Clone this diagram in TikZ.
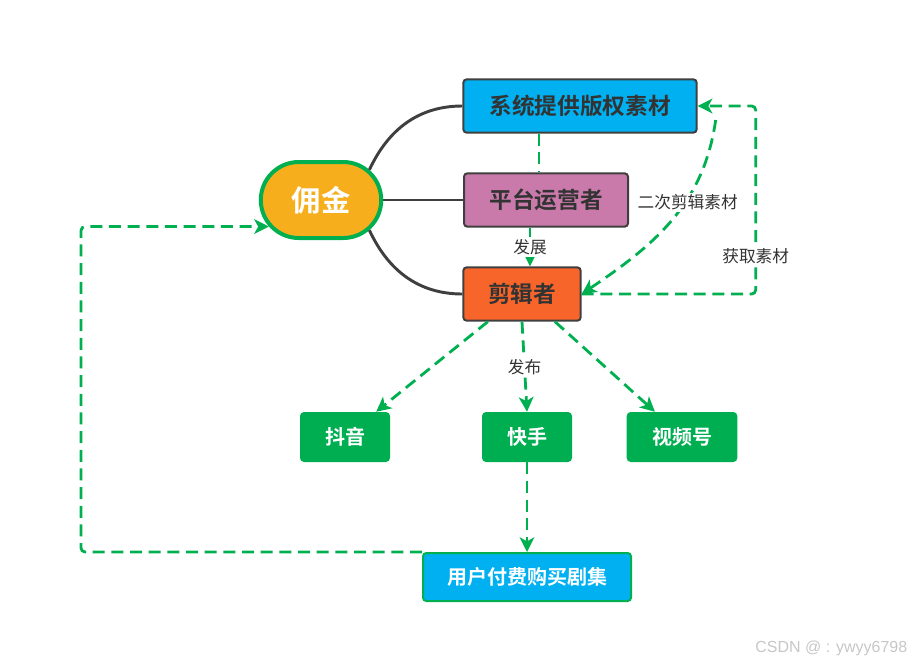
\documentclass[tikz,border=0pt]{standalone}
\usepackage{fontspec}
\newfontfamily\cjk{Noto Sans CJK SC}[BoldFont={Noto Sans CJK SC Bold}]
\newfontfamily\marksans{Liberation Sans}
\usetikzlibrary{shapes.misc, arrows.meta, positioning}

\definecolor{cmgold}{HTML}{F6AE1D}
\definecolor{cmgreen}{HTML}{00B050}
\definecolor{cmblue}{HTML}{00B0F0}
\definecolor{cmpink}{HTML}{C97AAB}
\definecolor{cmorange}{HTML}{F8652A}
\definecolor{cmboxgreen}{HTML}{00AE52}
\definecolor{cmdark}{HTML}{3F3F3F}
\definecolor{cmtext}{HTML}{333333}

\begin{document}
\begin{tikzpicture}[
    x=0.75pt, y=-0.75pt,
    font=\cjk,
    role/.style={rectangle, draw=cmdark, line width=1.5pt, rounded corners=2.5pt, minimum height=40pt, align=center, font=\cjk\bfseries\fontsize{17}{20}\selectfont, text=cmtext},
    channel/.style={rectangle, fill=cmboxgreen, rounded corners=3pt, minimum width=67.5pt, minimum height=37.5pt, font=\cjk\bfseries\fontsize{15}{18}\selectfont, text=white},
    branch/.style={draw=cmdark, line width=2.2pt},
    dash_line/.style={draw=cmgreen, line width=2.1pt, dash pattern=on 9pt off 5pt},
    dash_arrow/.style={dash_line, -{Stealth[length=11pt, width=11pt, inset=3pt]}},
    tag/.style={fill=white, inner sep=1.5pt, text=cmtext, font=\cjk\fontsize{12.5}{14}\selectfont}
]
\useasboundingbox (0,0) rectangle (916,664);

% commission
\node[rounded rectangle, fill=cmgold, draw=cmgreen, line width=3pt, minimum width=97pt, minimum height=57pt, text=white, font=\cjk\bfseries\fontsize{22}{26}\selectfont] (yongjin) at (321,200) {佣金};

% roles
\node[role, fill=cmblue, minimum width=175pt] (xitong) at (580,106) {系统提供版权素材};
\node[role, fill=cmpink, minimum width=123pt] (pingtai) at (546,200) {平台运营者};
\node[role, fill=cmorange, minimum width=88pt] (jianji) at (522,294) {剪辑者};

% channels
\node[channel] (douyin) at (345,437) {抖音};
\node[channel] (kuaishou) at (527,437) {快手};
\node[channel, minimum width=83pt] (shipinhao) at (682,437) {视频号};
\node[rectangle, fill=cmblue, draw=cmgreen, line width=1.5pt, rounded corners=2.5pt, minimum width=156pt, minimum height=36pt, text=white, font=\cjk\bfseries\fontsize{15}{18}\selectfont] (yonghu) at (527,577) {用户付费购买剧集};

% branches
\draw[branch] (yongjin.32) to[out=65, in=180] (xitong.west);
\draw[branch] (yongjin.east) -- (pingtai.west);
\draw[branch] (yongjin.-32) to[out=-65, in=180] (jianji.west);

% flows
\draw[dash_line] ([xshift=-30.75pt]xitong.south) -- ([xshift=-30.75pt]xitong.south |- pingtai.north);
\draw[dash_arrow] ([xshift=-12pt]pingtai.south) -- node[tag] {发展} ([xshift=-12pt]pingtai.south |- jianji.north);
\draw[dash_arrow] ([shift={(18,14)}]xitong.east) to[out=-98, in=34] node[tag, pos=0.39, xshift=2pt] {二次剪辑素材} (jianji.east);
\draw[dash_arrow, rounded corners=3pt] (jianji.east) -- ++(174,0) |- node[tag, pos=0.1] {获取素材} (xitong.east);
\draw[dash_arrow] (jianji.219) -- (douyin.39);
\draw[dash_arrow] (jianji.south) -- node[tag] {发布} (kuaishou.north);
\draw[dash_arrow] (jianji.320) -- (shipinhao.137);
\draw[dash_arrow] (kuaishou.south) -- (yonghu.north);
\draw[dash_arrow, rounded corners=3pt] (yonghu.north west) -- ++(-341,0) |- (yongjin.207);

\node[text=black!22, font=\marksans\fontsize{12}{14}\selectfont, anchor=east] (mark) at (912,648) {CSDN @ : ywyy6798};
\end{tikzpicture}
\end{document}
